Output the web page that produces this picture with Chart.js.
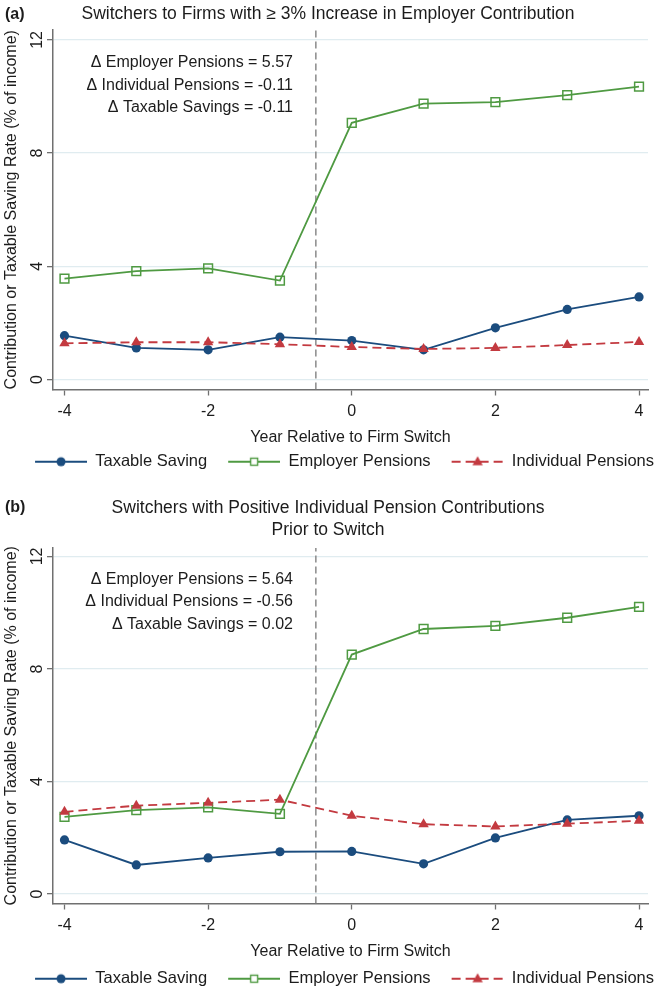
<!DOCTYPE html>
<html>
<head>
<meta charset="utf-8">
<script src="https://cdn.jsdelivr.net/npm/chart.js@4.4.1/dist/chart.umd.min.js"></script>
<style>
  html, body { margin: 0; padding: 0; background: #fff; overflow: hidden; }
  .panel { position: absolute; left: 0; width: 656px; }
  #panelA { top: 0; height: 494px; }
  #panelB { top: 494px; height: 504px; }
  canvas { display: block; }
</style>
</head>
<body>
<div class="panel" id="panelA"><canvas id="chartA"></canvas></div>
<div class="panel" id="panelB"><canvas id="chartB"></canvas></div>
<script>
// ---- data -------------------------------------------------------------
const years = [-4, -3, -2, -1, 0, 1, 2, 3, 4];
const xTicks = [-4, -2, 0, 2, 4];
const yTicks = [0, 4, 8, 12];
const switchYear = -0.5;
const seriesNames = ['Taxable Saving', 'Employer Pensions', 'Individual Pensions'];

// (a) switchers to firms with >= 3% increase in employer contribution
const titleA = ['Switchers to Firms with \u2265 3% Increase in Employer Contribution'];
const taxableA    = [1.55, 1.12, 1.05, 1.50, 1.38, 1.05, 1.83, 2.48, 2.92];
const employerA   = [3.57, 3.83, 3.93, 3.50, 9.07, 9.75, 9.80, 10.05, 10.35];
const individualA = [1.28, 1.32, 1.32, 1.25, 1.15, 1.08, 1.12, 1.22, 1.33];
const notesA = ['\u0394 Employer Pensions = 5.57', '\u0394 Individual Pensions = -0.11', '\u0394 Taxable Savings = -0.11'];

// (b) switchers with positive individual pension contributions prior to switch
const titleB = ['Switchers with Positive Individual Pension Contributions', 'Prior to Switch'];
const taxableB    = [1.92, 1.03, 1.28, 1.50, 1.51, 1.07, 1.99, 2.63, 2.78];
const employerB   = [2.74, 2.98, 3.08, 2.85, 8.51, 9.42, 9.53, 9.82, 10.21];
const individualB = [2.92, 3.14, 3.24, 3.35, 2.78, 2.48, 2.40, 2.50, 2.60];
const notesB = ['\u0394 Employer Pensions = 5.64', '\u0394 Individual Pensions = -0.56', '\u0394 Taxable Savings = 0.02'];

// ---- styling ----------------------------------------------------------
const FONT = "'Liberation Sans', Arial, Helvetica, sans-serif";
const INK = '#1c1c1c';
const AXIS = '#707070';
const GRID = '#e0ecf0';
const C_TAX = '#1b4c7e';
const C_EMP = '#4f9a42';
const C_IND = '#c33a40';
const IND_DASH = [9, 5];
const SWATCH_W = 71;

// legend swatch: short line with the series marker in the middle
function swatch(color, marker, dash) {
  const c = document.createElement('canvas');
  c.width = SWATCH_W; c.height = 14;
  const g = c.getContext('2d');
  const x0 = SWATCH_W - 52;
  g.strokeStyle = color; g.fillStyle = color; g.lineWidth = 1.8;
  g.setLineDash(dash || []);
  g.beginPath(); g.moveTo(x0, 7); g.lineTo(SWATCH_W, 7); g.stroke();
  g.setLineDash([]);
  const cx = x0 + 26, cy = 7;
  if (marker === 'circle') {
    g.beginPath(); g.arc(cx, cy, 4.5, 0, Math.PI * 2); g.fill();
  } else if (marker === 'rect') {
    g.fillStyle = '#fff'; g.fillRect(cx - 3.5, cy - 3.5, 7, 7);
    g.lineWidth = 1.4; g.strokeRect(cx - 3.5, cy - 3.5, 7, 7);
  } else {
    g.beginPath(); g.moveTo(cx, cy - 5.5); g.lineTo(cx + 5.2, cy + 3.5); g.lineTo(cx - 5.2, cy + 3.5); g.closePath(); g.fill();
  }
  return c;
}
const swatches = [swatch(C_TAX, 'circle'), swatch(C_EMP, 'rect'), swatch(C_IND, 'triangle', IND_DASH)];

function points(values) { return years.map((x, i) => ({ x: x, y: values[i] })); }

// panel tag, rotated y tick labels and the change annotations
const panelText = {
  id: 'panelText',
  afterDraw(chart, args, opts) {
    const { ctx } = chart;
    const y = chart.scales.y;
    ctx.save();
    ctx.fillStyle = INK;
    ctx.font = 'bold 16px ' + FONT;
    ctx.textAlign = 'left'; ctx.textBaseline = 'middle';
    ctx.fillText(opts.tag, 5, opts.tagY);
    ctx.font = '16px ' + FONT;
    yTicks.forEach(v => {
      ctx.save();
      ctx.translate(38, y.getPixelForValue(v));
      ctx.rotate(-Math.PI / 2);
      ctx.textAlign = 'center'; ctx.textBaseline = 'middle';
      ctx.fillText(String(v), 0, 0);
      ctx.restore();
    });
    const top = y.getPixelForValue(12) + 23;
    ctx.textAlign = 'right'; ctx.textBaseline = 'middle';
    opts.notes.forEach((t, i) => ctx.fillText(t, 293, top + i * 22.5));
    ctx.restore();
  }
};

function makePanel(id, p) {
  const datasets = [
    { label: seriesNames[0], data: points(p.taxable), borderColor: C_TAX, backgroundColor: C_TAX,
      pointStyle: 'circle', pointRadius: 4.6, pointBorderWidth: 0, borderWidth: 1.8, order: 2 },
    { label: seriesNames[1], data: points(p.employer), borderColor: C_EMP, backgroundColor: 'rgba(255,255,255,0)',
      pointStyle: 'rect', pointRadius: 6.2, pointBorderWidth: 1.5, borderWidth: 1.8, order: 1 },
    { label: seriesNames[2], data: points(p.individual), borderColor: C_IND, backgroundColor: C_IND,
      pointStyle: 'triangle', pointRadius: 6, pointBorderWidth: 0, borderWidth: 1.8, borderDash: IND_DASH, order: 0 },
    { label: 'switch', data: [{ x: switchYear, y: p.yMin }, { x: switchYear, y: p.yMax }],
      borderColor: '#8a8a8a', borderWidth: 1.5, borderDash: [7, 4], pointRadius: 0, order: 3 }
  ];
  datasets.forEach(d => { d.fill = false; d.tension = 0; d.pointHoverRadius = d.pointRadius; });

  return new Chart(document.getElementById(id), {
    type: 'line',
    data: { datasets },
    options: {
      responsive: true,
      maintainAspectRatio: false,
      animation: false,
      events: [],
      layout: { padding: { left: 0, right: 0, top: 0, bottom: p.padBottom } },
      scales: {
        x: {
          type: 'linear', position: 'bottom', min: -4.16, max: 4.125,
          afterBuildTicks: s => { s.ticks = xTicks.map(v => ({ value: v })); },
          afterFit: s => { s.height = p.xAxisHeight; },
          grid: { display: true, drawOnChartArea: false, drawTicks: true, tickLength: 6, tickColor: AXIS, tickWidth: 1.3 },
          border: { display: true, color: AXIS, width: 1.5 },
          ticks: { font: { family: FONT, size: 16 }, color: INK, padding: 6, maxRotation: 0, autoSkip: false,
                   callback: v => String(v) },
          title: { display: true, text: 'Year Relative to Firm Switch', font: { family: FONT, size: 16 }, color: INK,
                   padding: { top: 0, bottom: p.xTitlePad } }
        },
        y: {
          type: 'linear', position: 'left', min: p.yMin, max: p.yMax,
          afterBuildTicks: s => { s.ticks = yTicks.map(v => ({ value: v })); },
          afterFit: s => { s.width = 53; },
          grid: { display: true, color: GRID, lineWidth: 1.3, drawTicks: true, tickLength: 6, tickColor: AXIS, tickWidth: 1.3 },
          border: { display: true, color: AXIS, width: 1.5 },
          ticks: { display: false },
          title: { display: true, text: 'Contribution or Taxable Saving Rate (% of income)',
                   font: { family: FONT, size: 16 }, color: INK, padding: { top: 2.4, bottom: 0 } }
        },
        pad: {
          type: 'linear', position: 'right', display: true,
          grid: { display: false }, border: { display: false }, ticks: { display: false },
          afterFit: s => { s.width = 8; }
        }
      },
      plugins: {
        title: { display: true, text: p.title, color: INK,
                 font: { family: FONT, size: 17.5, weight: 'normal', lineHeight: p.titleLine },
                 padding: { top: p.titleTop, bottom: p.titleBottom } },
        legend: {
          display: true, position: 'bottom', align: 'end',
          labels: {
            usePointStyle: true, pointStyleWidth: SWATCH_W, padding: 2, color: INK,
            font: { family: FONT, size: 16.5 },
            generateLabels: chart => seriesNames.map((name, i) => ({
              text: name, pointStyle: swatches[i], datasetIndex: i, hidden: false,
              fillStyle: 'rgba(0,0,0,0)', strokeStyle: 'rgba(0,0,0,0)', lineWidth: 0, fontColor: INK
            }))
          }
        },
        tooltip: { enabled: false },
        panelText: { tag: p.tag, tagY: p.tagY, notes: p.notes }
      }
    },
    plugins: [panelText]
  });
}

makePanel('chartA', {
  tag: '(a)', tagY: 15, title: titleA, titleLine: '21px', titleTop: 3.5, titleBottom: 5.5,
  taxable: taxableA, employer: employerA, individual: individualA, notes: notesA,
  yMin: -0.35, yMax: 12.35, xAxisHeight: 62, xTitlePad: 4.4, padBottom: 14
});
makePanel('chartB', {
  tag: '(b)', tagY: 14, title: titleB, titleLine: '22.5px', titleTop: 2.75, titleBottom: 6.25,
  taxable: taxableB, employer: employerB, individual: individualB, notes: notesB,
  yMin: -0.34, yMax: 12.3, xAxisHeight: 65, xTitlePad: 7.4, padBottom: 1
});
</script>
</body>
</html>
